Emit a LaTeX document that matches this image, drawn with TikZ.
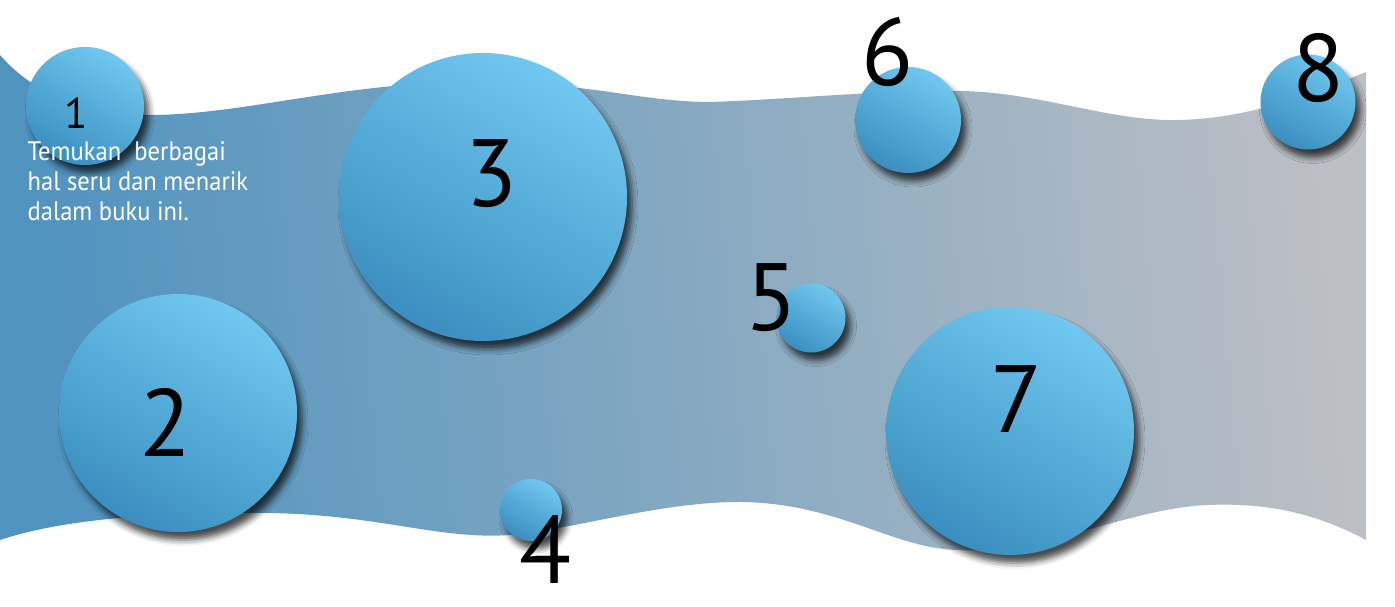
\documentclass[tikz,border=0pt]{standalone}
\usepackage{fontspec}
\setmainfont{PT Sans}
\newfontfamily\blurbfont[FakeStretch=0.92]{PT Sans}
\usetikzlibrary{shadows.blur}
\definecolor{bandleft}{HTML}{4F93BF}
\definecolor{bandright}{HTML}{BCBFC4}
\definecolor{bubblelight}{HTML}{70C7EF}
\definecolor{bubbledark}{HTML}{3A8FC0}
\tikzset{
    band/.style={left color=bandleft, right color=bandright, shading angle=95},
    bubble/.style={circle, inner sep=0pt, top color=bubblelight, bottom color=bubbledark, shading angle=-30,
        blur shadow={shadow xshift=0.5mm, shadow yshift=-0.8mm, shadow blur radius=0.6mm, shadow opacity=70}},
    numlabel/.style={inner sep=0pt, text=black, font=\fontsize{27.2}{30}\selectfont},
    blurb/.style={inner sep=0pt, align=left, text=white, font=\blurbfont\fontsize{7.6}{8.5}\selectfont}
}
\begin{document}
\begin{tikzpicture}[x=0.1mm, y=-0.1mm]

    \useasboundingbox (0,0) rectangle (1395,607);

    % --- BANDE ---
    \shade [band] (0,55) .. controls (30,90) and (80,115) .. (150,115)
        .. controls (230,115) and (320,90) .. (420,84)
        .. controls (500,80) and (560,85) .. (610,92)
        .. controls (650,98) and (680,102) .. (710,102)
        .. controls (780,100) and (880,90) .. (960,91)
        .. controls (1040,92) and (1110,122) .. (1180,120)
        .. controls (1250,118) and (1310,95) .. (1366,72)
        -- (1366,540)
        .. controls (1310,510) and (1260,503) .. (1208,505)
        .. controls (1130,508) and (1040,555) .. (960,550)
        .. controls (895,550) and (840,503) .. (740,502)
        .. controls (660,502) and (580,528) .. (510,535)
        .. controls (440,540) and (380,515) .. (270,513)
        .. controls (150,512) and (60,520) .. (0,540) -- cycle;

    % --- BULLES ---
    \node (circle_one)   [bubble, minimum size=11.8mm] at (85,106) {};
    \node (circle_two)   [bubble, minimum size=23.8mm] at (178,413) {};
    \node (circle_three) [bubble, minimum size=28.8mm] at (483,197) {};
    \node (circle_four)  [bubble, minimum size=6.2mm]  at (531,510) {};
    \node (circle_five)  [bubble, minimum size=6.9mm]  at (811,318) {};
    \node (circle_six)   [bubble, minimum size=10.6mm] at (908,120) {};
    \node (circle_seven) [bubble, minimum size=24.8mm] at (1010,431) {};
    \node (circle_eight) [bubble, minimum size=9.5mm]  at (1308,102) {};

    % --- CHIFFRES ---
    \node (num_one)   [numlabel, font=\fontsize{12.2}{14}\selectfont] at (76,113) {1};
    \node (num_two)   [numlabel] at (166,422) {2};
    \node (num_three) [numlabel] at (492,174) {3};
    \node (num_four)  [numlabel] at (546,550) {4};
    \node (num_five)  [numlabel] at (772,298) {5};
    \node (num_six)   [numlabel] at (888,52) {6};
    \node (num_seven) [numlabel] at (1017,399) {7};
    \node (num_eight) [numlabel] at (1319,68) {8};

    % --- TEXTE ---
    \node (blurb_text) [blurb, anchor=north west] at (27,141) {Temukan\ \ berbagai\\hal seru dan menarik\\dalam buku ini.};

\end{tikzpicture}
\end{document}
